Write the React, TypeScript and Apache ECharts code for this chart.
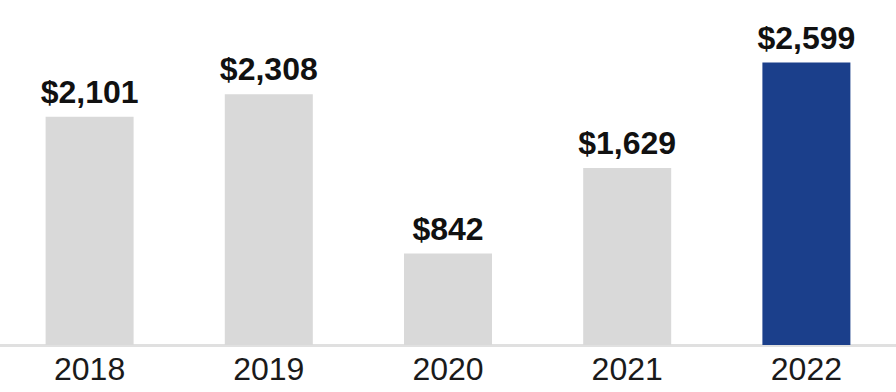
import React, { useEffect, useRef } from "react";
import * as echarts from "echarts";

const years = ["2018", "2019", "2020", "2021", "2022"];
const values = [2101, 2308, 842, 1629, 2599];
const highlightYear = "2022";

export default function App() {
  const ref = useRef<HTMLDivElement>(null);
  useEffect(() => {
    const chart = echarts.init(ref.current!, null, { renderer: "svg" });
    chart.setOption({
      animation: false,
      grid: { left: 0, right: 0, top: 19, bottom: 47 },
      xAxis: {
        type: "category",
        data: years,
        axisLine: { show: true, lineStyle: { color: "#e0e0e0", width: 3 } },
        axisTick: { show: false },
        axisLabel: {
          color: "#1a1a1a",
          fontSize: 32,
          fontFamily: "Liberation Sans, Arial, sans-serif",
          margin: 8,
        },
      },
      yAxis: {
        type: "value",
        min: 0,
        max: 3000,
        show: false,
        splitLine: { show: false },
      },
      series: [
        {
          type: "bar",
          barWidth: 88,
          data: values.map((v, i) => ({
            value: v,
            itemStyle: { color: years[i] === highlightYear ? "#1b3f8b" : "#d9d9d9" },
          })),
          label: {
            show: true,
            position: "top",
            distance: 9,
            color: "#111111",
            fontSize: 32,
            fontWeight: "bold",
            fontFamily: "Liberation Sans, Arial, sans-serif",
            formatter: (p: any) => "$" + p.value.toLocaleString("en-US"),
          },
        },
      ],
    });
    return () => chart.dispose();
  }, []);
  return <div ref={ref} style={{ width: 896, height: 392, position: "absolute", left: 0, top: 0 }} />;
}
